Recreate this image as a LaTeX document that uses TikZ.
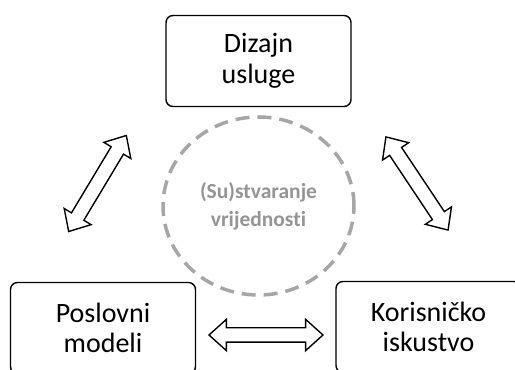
\documentclass[tikz,border=0pt]{standalone}
\usepackage{fontspec}
\setmainfont{Carlito}[Ligatures=NoCommon]
\usepackage{xcolor}
\usetikzlibrary{shapes.arrows,shapes.geometric}

\definecolor{ringgray}{HTML}{A6A6A6}
\definecolor{ringtext}{HTML}{959595}

\begin{document}
\begin{tikzpicture}[x=1pt, y=1pt,
  box/.style={draw=black, line width=1.4pt, rounded corners=7pt, align=center, font=\fontsize{28}{30.5}\selectfont, minimum width=185pt, minimum height=91pt},
  ring/.style={ellipse, draw=ringgray, line width=3.5pt, dash pattern=on 14pt off 8pt, minimum width=191pt, minimum height=178pt, align=center, font=\bfseries\fontsize{21.5}{28}\selectfont, text=ringtext},
  dblarr/.style={double arrow, draw=black, line width=1.4pt, fill=white, sloped, inner xsep=0pt, inner ysep=6.5pt, minimum height=#1, double arrow head extend=8.5pt, double arrow tip angle=84},
  dblarr/.default=112pt]
\useasboundingbox (0,0) rectangle (515,370);
\node[box]  (dizajn)   at (258.5,309) {Dizajn\\usluge};
\node[box]  (poslovni) at (103,42)    {Poslovni\\modeli};
\node[box]  (korisnik) at (428.5,43)  {Korisničko\\iskustvo};
\node[ring] (vrijed)   at (258.5,164) {(Su)stvaranje\\vrijednosti};
% free ends of the hollow arrows
\coordinate (la) at (69,139);  \coordinate (lb) at (126,234);
\coordinate (ra) at (386,233); \coordinate (rb) at (448,140);
\coordinate (ba) at (209,35);  \coordinate (bb) at (323,35);
\path (la) -- node[dblarr] (arrL) {} (lb);
\path (ra) -- node[dblarr] (arrR) {} (rb);
\path (ba) -- node[dblarr=114pt] (arrB) {} (bb);
\end{tikzpicture}
\end{document}
